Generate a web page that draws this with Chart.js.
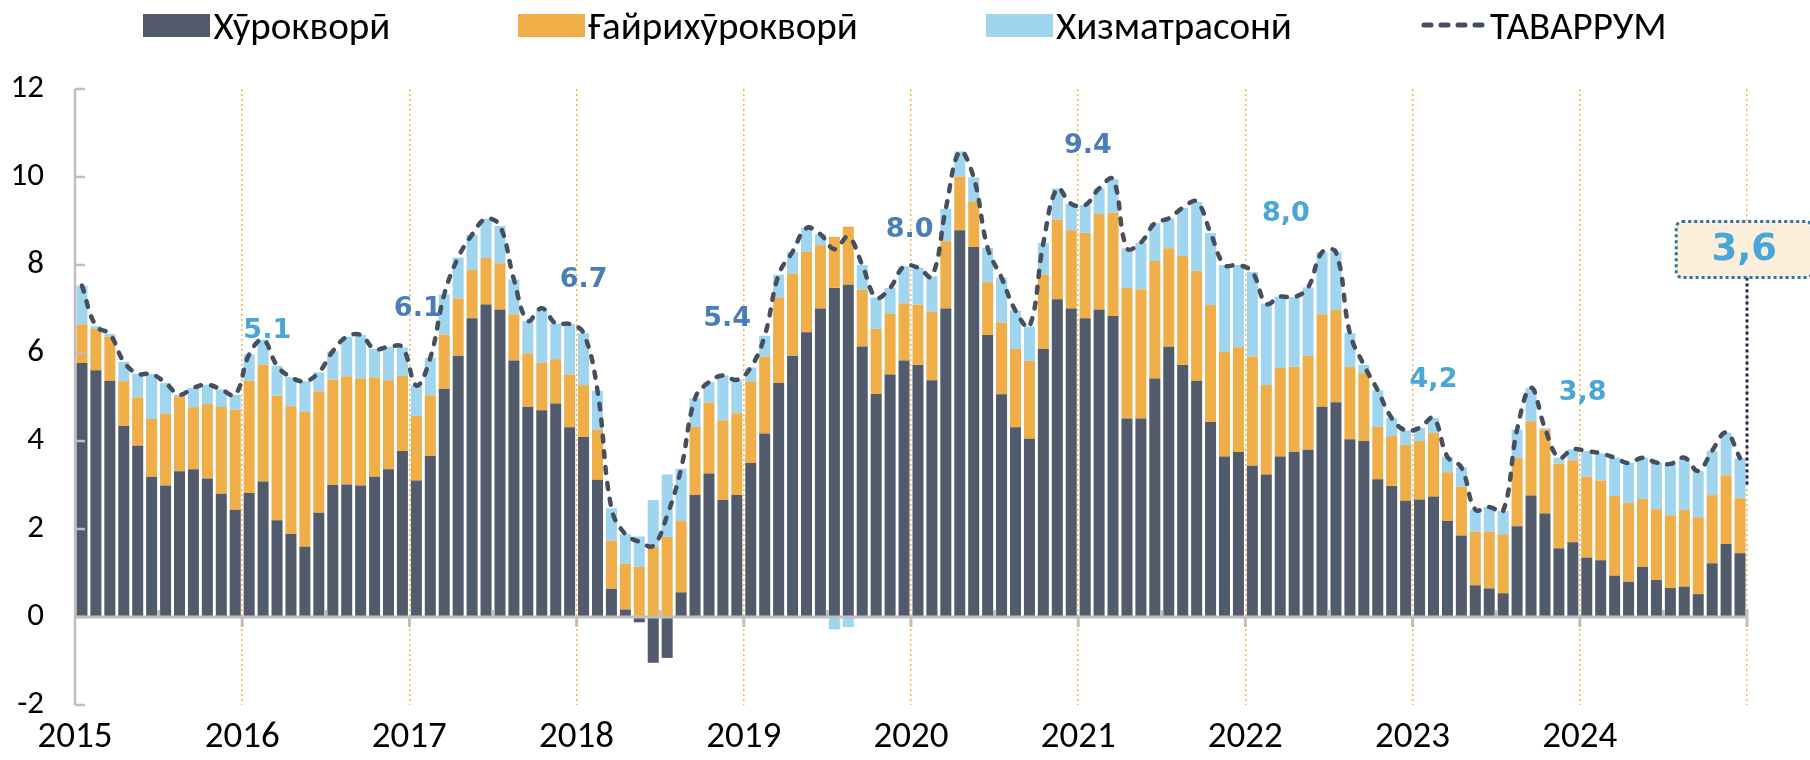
<!DOCTYPE html>
<html>
<head>
<meta charset="utf-8">
<script src="https://cdn.jsdelivr.net/npm/chart.js@4.4.1/dist/chart.umd.min.js"></script>
<style>
  html, body { margin: 0; padding: 0; background: #fff; }
  #wrap { position: relative; width: 1810px; height: 760px; }
  #legend {
    position: absolute; top: 0; left: 0; width: 1810px; height: 50px;
    display: flex; justify-content: center; align-items: center; gap: 128px;
    font-family: Carlito, Calibri, Lato, "Liberation Sans Narrow", sans-serif;
    font-size: 39px; color: #000;
  }
  .item { display: flex; align-items: center; white-space: nowrap; }
  .swatch { width: 67px; height: 23px; margin-right: 3px; }
  .item svg { margin-right: 3px; }
</style>
</head>
<body>
<div id="wrap">
  <div id="legend"></div>
  <canvas id="inflChart" width="1810" height="760"></canvas>
</div>
<script>
// год / моҳ
const years = ['2015', '2016', '2017', '2018', '2019', '2020', '2021', '2022', '2023', '2024'];
const months = [];
years.forEach(y => { for (let m = 1; m <= 12; m++) months.push(y + '-' + String(m).padStart(2, '0')); });

// Хӯрокворӣ
const food = [
  5.77, 5.61, 5.37, 4.34, 3.89, 3.19, 2.99, 3.31, 3.36, 3.15, 2.80, 2.44,
  2.82, 3.08, 2.20, 1.89, 1.60, 2.37, 3.00, 3.01, 2.99, 3.19, 3.36, 3.77,
  3.10, 3.66, 5.19, 5.94, 6.79, 7.10, 6.99, 5.83, 4.78, 4.70, 4.85, 4.31,
  4.09, 3.12, 0.64, 0.17, -0.12, -1.04, -0.93, 0.56, 2.77, 3.26, 2.66, 2.77,
  3.50, 4.17, 5.32, 5.94, 6.47, 7.01, 7.48, 7.55, 6.15, 5.07, 5.51, 5.83,
  5.73, 5.38, 7.01, 8.79, 8.41, 6.41, 5.06, 4.31, 4.05, 6.09, 7.22, 7.01,
  6.79, 6.99, 6.84, 4.51, 4.51, 5.42, 6.14, 5.73, 5.37, 4.43, 3.65, 3.75,
  3.44, 3.24, 3.65, 3.75, 3.80, 4.78, 4.88, 4.04, 4.00, 3.13, 2.98, 2.64,
  2.67, 2.74, 2.18, 1.85, 0.72, 0.65, 0.54, 2.06, 2.76, 2.35, 1.56, 1.70,
  1.35, 1.29, 0.94, 0.80, 1.14, 0.84, 0.66, 0.69, 0.52, 1.22, 1.66, 1.45
];

// Ғайрихӯрокворӣ
const nonFood = [
  0.88, 0.94, 1.00, 1.02, 1.10, 1.31, 1.63, 1.70, 1.41, 1.69, 1.97, 2.27,
  2.55, 2.66, 2.83, 2.90, 3.06, 2.76, 2.40, 2.46, 2.43, 2.26, 2.02, 1.71,
  1.47, 1.38, 1.23, 1.30, 1.10, 1.06, 1.05, 1.05, 1.21, 1.08, 1.01, 1.20,
  1.18, 1.13, 1.09, 1.04, 1.14, 1.59, 1.82, 1.62, 1.55, 1.61, 1.81, 1.86,
  1.85, 1.75, 1.94, 1.86, 1.83, 1.44, 1.16, 1.32, 1.29, 1.48, 1.38, 1.30,
  1.37, 1.56, 1.53, 1.22, 1.04, 1.20, 1.63, 1.78, 1.77, 1.69, 1.81, 1.78,
  1.94, 2.17, 2.35, 2.97, 2.94, 2.67, 2.24, 2.48, 2.50, 2.66, 2.38, 2.38,
  2.48, 2.03, 2.01, 1.94, 2.13, 2.10, 2.10, 1.64, 1.54, 1.19, 1.13, 1.27,
  1.33, 1.44, 1.11, 1.11, 1.22, 1.29, 1.34, 1.56, 1.69, 1.91, 1.93, 1.86,
  1.84, 1.81, 1.81, 1.79, 1.54, 1.61, 1.65, 1.74, 1.75, 1.55, 1.56, 1.25
];

// Хизматрасонӣ
const services = [
  0.88, 0.06, 0.06, 0.44, 0.54, 1.02, 0.70, 0.04, 0.44, 0.44, 0.40, 0.34,
  0.60, 0.56, 0.68, 0.66, 0.70, 0.43, 0.64, 0.90, 0.99, 0.64, 0.76, 0.65,
  0.69, 0.85, 0.91, 0.93, 0.80, 0.89, 0.85, 0.79, 0.74, 1.23, 0.81, 1.15,
  1.18, 0.89, 0.74, 0.67, 0.69, 1.07, 1.42, 1.19, 0.65, 0.47, 1.02, 0.76,
  0.32, 0.47, 0.52, 0.50, 0.54, 0.25, -0.28, -0.23, 0.56, 0.71, 0.59, 0.84,
  0.84, 0.80, 0.74, 0.57, 0.54, 0.78, 1.02, 0.87, 0.78, 0.72, 0.71, 0.60,
  0.63, 0.58, 0.76, 0.90, 1.06, 0.86, 0.68, 1.09, 1.57, 1.64, 1.97, 1.87,
  1.92, 1.85, 1.62, 1.58, 1.56, 1.41, 1.31, 0.77, 0.19, 0.83, 0.41, 0.33,
  0.30, 0.34, 0.35, 0.44, 0.50, 0.56, 0.53, 0.64, 0.76, 0.03, 0.13, 0.25,
  0.58, 0.62, 0.87, 0.91, 0.94, 1.06, 1.17, 1.19, 1.05, 1.01, 0.97, 0.91
];

// ТАВАРРУМ
const total = [
  7.53, 6.61, 6.43, 5.80, 5.53, 5.52, 5.32, 5.05, 5.21, 5.28, 5.17, 5.05,
  5.97, 6.30, 5.71, 5.45, 5.36, 5.56, 6.04, 6.37, 6.41, 6.09, 6.14, 6.13,
  5.26, 5.89, 7.33, 8.17, 8.69, 9.05, 8.89, 7.67, 6.73, 7.02, 6.67, 6.66,
  6.45, 5.14, 2.47, 1.88, 1.71, 1.62, 2.31, 3.37, 4.97, 5.34, 5.49, 5.39,
  5.67, 6.39, 7.78, 8.30, 8.84, 8.70, 8.36, 8.64, 8.00, 7.26, 7.48, 7.97,
  7.94, 7.74, 9.28, 10.58, 9.99, 8.39, 7.71, 6.96, 6.60, 8.50, 9.74, 9.39,
  9.36, 9.74, 9.95, 8.38, 8.51, 8.95, 9.06, 9.30, 9.44, 8.73, 8.00, 8.00,
  7.84, 7.12, 7.28, 7.27, 7.49, 8.29, 8.29, 6.45, 5.73, 5.15, 4.52, 4.24,
  4.30, 4.52, 3.64, 3.40, 2.44, 2.50, 2.41, 4.26, 5.21, 4.29, 3.62, 3.81,
  3.77, 3.72, 3.62, 3.50, 3.62, 3.51, 3.48, 3.62, 3.32, 3.78, 4.19, 3.61
];

// labels written on the chart
const noteText = ['5.1', '6.1', '6.7', '5.4', '8.0', '9.4', '8,0', '4,2', '3,8'];
const noteAt = [13.3, 24.1, 36.0, 46.3, 59.4, 72.2, 86.4, 97.0, 107.7];
const noteValue = [6.5, 7.0, 7.67, 6.78, 8.8, 10.71, 9.16, 5.38, 5.09];
const noteDark = [false, true, true, true, true, true, false, false, false];
const lastValue = '3,6';

const FONT = 'Carlito, Calibri, Lato, "Liberation Sans Narrow", sans-serif';
const NOTE_FONT = '"DejaVu Sans", Verdana, sans-serif';
const DARK_BLUE = '#4a7ebb';
const LIGHT_BLUE = '#48a6d8';

const htmlLegend = {
  id: 'htmlLegend',
  afterUpdate(chart) {
    const box = document.getElementById('legend');
    box.innerHTML = '';
    chart.data.datasets.forEach(ds => {
      const item = document.createElement('div');
      item.className = 'item';
      if (ds.type === 'line') {
        const ns = 'http://www.w3.org/2000/svg';
        const svg = document.createElementNS(ns, 'svg');
        svg.setAttribute('width', '67');
        svg.setAttribute('height', '12');
        const ln = document.createElementNS(ns, 'line');
        ln.setAttribute('x1', '4'); ln.setAttribute('y1', '6');
        ln.setAttribute('x2', '64'); ln.setAttribute('y2', '6');
        ln.setAttribute('stroke', ds.borderColor);
        ln.setAttribute('stroke-width', '5');
        ln.setAttribute('stroke-linecap', 'round');
        ln.setAttribute('stroke-dasharray', '7 10');
        svg.appendChild(ln);
        item.appendChild(svg);
      } else {
        const sw = document.createElement('span');
        sw.className = 'swatch';
        sw.style.background = ds.backgroundColor;
        item.appendChild(sw);
      }
      const t = document.createElement('span');
      t.textContent = ds.label;
      item.appendChild(t);
      box.appendChild(item);
    });
  }
};

const axisDecor = {
  id: 'axisDecor',
  afterDatasetsDraw(chart) {
    const {ctx, chartArea: a, scales: {x, y}} = chart;
    const y0 = y.getPixelForValue(0);
    const step = (x.getPixelForValue(1) - x.getPixelForValue(0));
    ctx.save();
    ctx.strokeStyle = '#bfbfbf';
    ctx.lineWidth = 3;
    ctx.beginPath();
    ctx.moveTo(a.left, y0); ctx.lineTo(a.right, y0);
    ctx.stroke();
    ctx.lineWidth = 2.5;
    ctx.beginPath();
    ctx.moveTo(a.left, a.top); ctx.lineTo(a.left, a.bottom);
    y.ticks.forEach(t => {
      const py = y.getPixelForValue(t.value);
      ctx.moveTo(a.left, py); ctx.lineTo(a.left + 10, py);
    });
    ctx.stroke();
    ctx.lineWidth = 3;
    ctx.beginPath();
    for (let i = 6; i <= months.length; i += 6) {
      const px = x.getPixelForValue(i) - step / 2;
      if (i % 12 === 0) {
        ctx.moveTo(px, i === months.length ? y0 - 8 : y0); ctx.lineTo(px, y0 + 10);
      } else {
        ctx.moveTo(px, y0 - 7); ctx.lineTo(px, y0);
      }
    }
    ctx.stroke();
    ctx.restore();
  },
  afterDraw(chart) {
    const {ctx, chartArea: a, scales: {x, y}} = chart;
    ctx.save();
    ctx.textAlign = 'center';
    ctx.textBaseline = 'middle';
    ctx.font = 'bold 27px ' + NOTE_FONT;
    noteText.forEach((txt, i) => {
      ctx.fillStyle = noteDark[i] ? DARK_BLUE : LIGHT_BLUE;
      ctx.fillText(txt, x.getPixelForValue(noteAt[i]), y.getPixelForValue(noteValue[i]));
    });

    // callout for the last value
    const cx = x.getPixelForValue(119.3);
    const cy = y.getPixelForValue(8.35);
    const bw = 136, bh = 56;
    ctx.strokeStyle = '#1b2a5c';
    ctx.lineWidth = 3;
    ctx.setLineDash([3, 3]);
    ctx.beginPath();
    ctx.moveTo(a.right, cy + bh / 2);
    ctx.lineTo(a.right, y.getPixelForValue(3.0));
    ctx.stroke();
    ctx.beginPath();
    ctx.roundRect(cx - bw / 2, cy - bh / 2, bw, bh, 6);
    ctx.fillStyle = '#fbefdc';
    ctx.fill();
    ctx.strokeStyle = '#2f739c';
    ctx.stroke();
    ctx.setLineDash([]);
    ctx.fillStyle = LIGHT_BLUE;
    ctx.font = 'bold 37px ' + NOTE_FONT;
    ctx.fillText(lastValue, cx, cy + 1);
    ctx.restore();
  }
};

new Chart(document.getElementById('inflChart'), {
  data: {
    labels: months,
    datasets: [
      { type: 'bar', label: 'Хӯрокворӣ', data: food, backgroundColor: '#525b6b', order: 1,
        barPercentage: 0.79, categoryPercentage: 1.0 },
      { type: 'bar', label: 'Ғайрихӯрокворӣ', data: nonFood, backgroundColor: '#efae47', order: 1,
        barPercentage: 0.79, categoryPercentage: 1.0 },
      { type: 'bar', label: 'Хизматрасонӣ', data: services, backgroundColor: '#9fd5ef', order: 1,
        barPercentage: 0.79, categoryPercentage: 1.0 },
      { type: 'line', label: 'ТАВАРРУМ', data: total, borderColor: '#454f60', borderWidth: 4.5,
        borderDash: [6, 10], borderCapStyle: 'round', pointRadius: 0, tension: 0.4,
        fill: false, order: 0, stack: 'total' }
    ]
  },
  options: {
    responsive: false,
    animation: false,
    layout: { padding: { top: 89, right: 63, bottom: 0, left: 0 } },
    plugins: {
      legend: { display: false },
      tooltip: { enabled: false }
    },
    scales: {
      x: {
        stacked: true,
        offset: true,
        grid: {
          offset: true,
          drawTicks: false,
          lineWidth: 1.5,
          color: c => (c.type !== 'tick' || c.index % 12 === 0) ? '#f6b54f' : 'rgba(0,0,0,0)'
        },
        border: { display: false, dash: [2, 3] },
        ticks: {
          autoSkip: false, maxRotation: 0, minRotation: 0, padding: 11, labelOffset: -7,
          color: '#000', font: { family: FONT, size: 37 },
          callback: (v, i) => i % 12 === 0 ? years[i / 12] : ''
        },
        afterFit: s => { s.height = 55; }
      },
      y: {
        stacked: true,
        min: -2, max: 12,
        grid: { display: false, drawTicks: false },
        border: { display: false },
        ticks: { stepSize: 2, padding: 31, color: '#000', font: { family: FONT, size: 33 } },
        afterFit: s => { s.width = 75; }
      }
    }
  },
  plugins: [htmlLegend, axisDecor]
});
</script>
</body>
</html>
